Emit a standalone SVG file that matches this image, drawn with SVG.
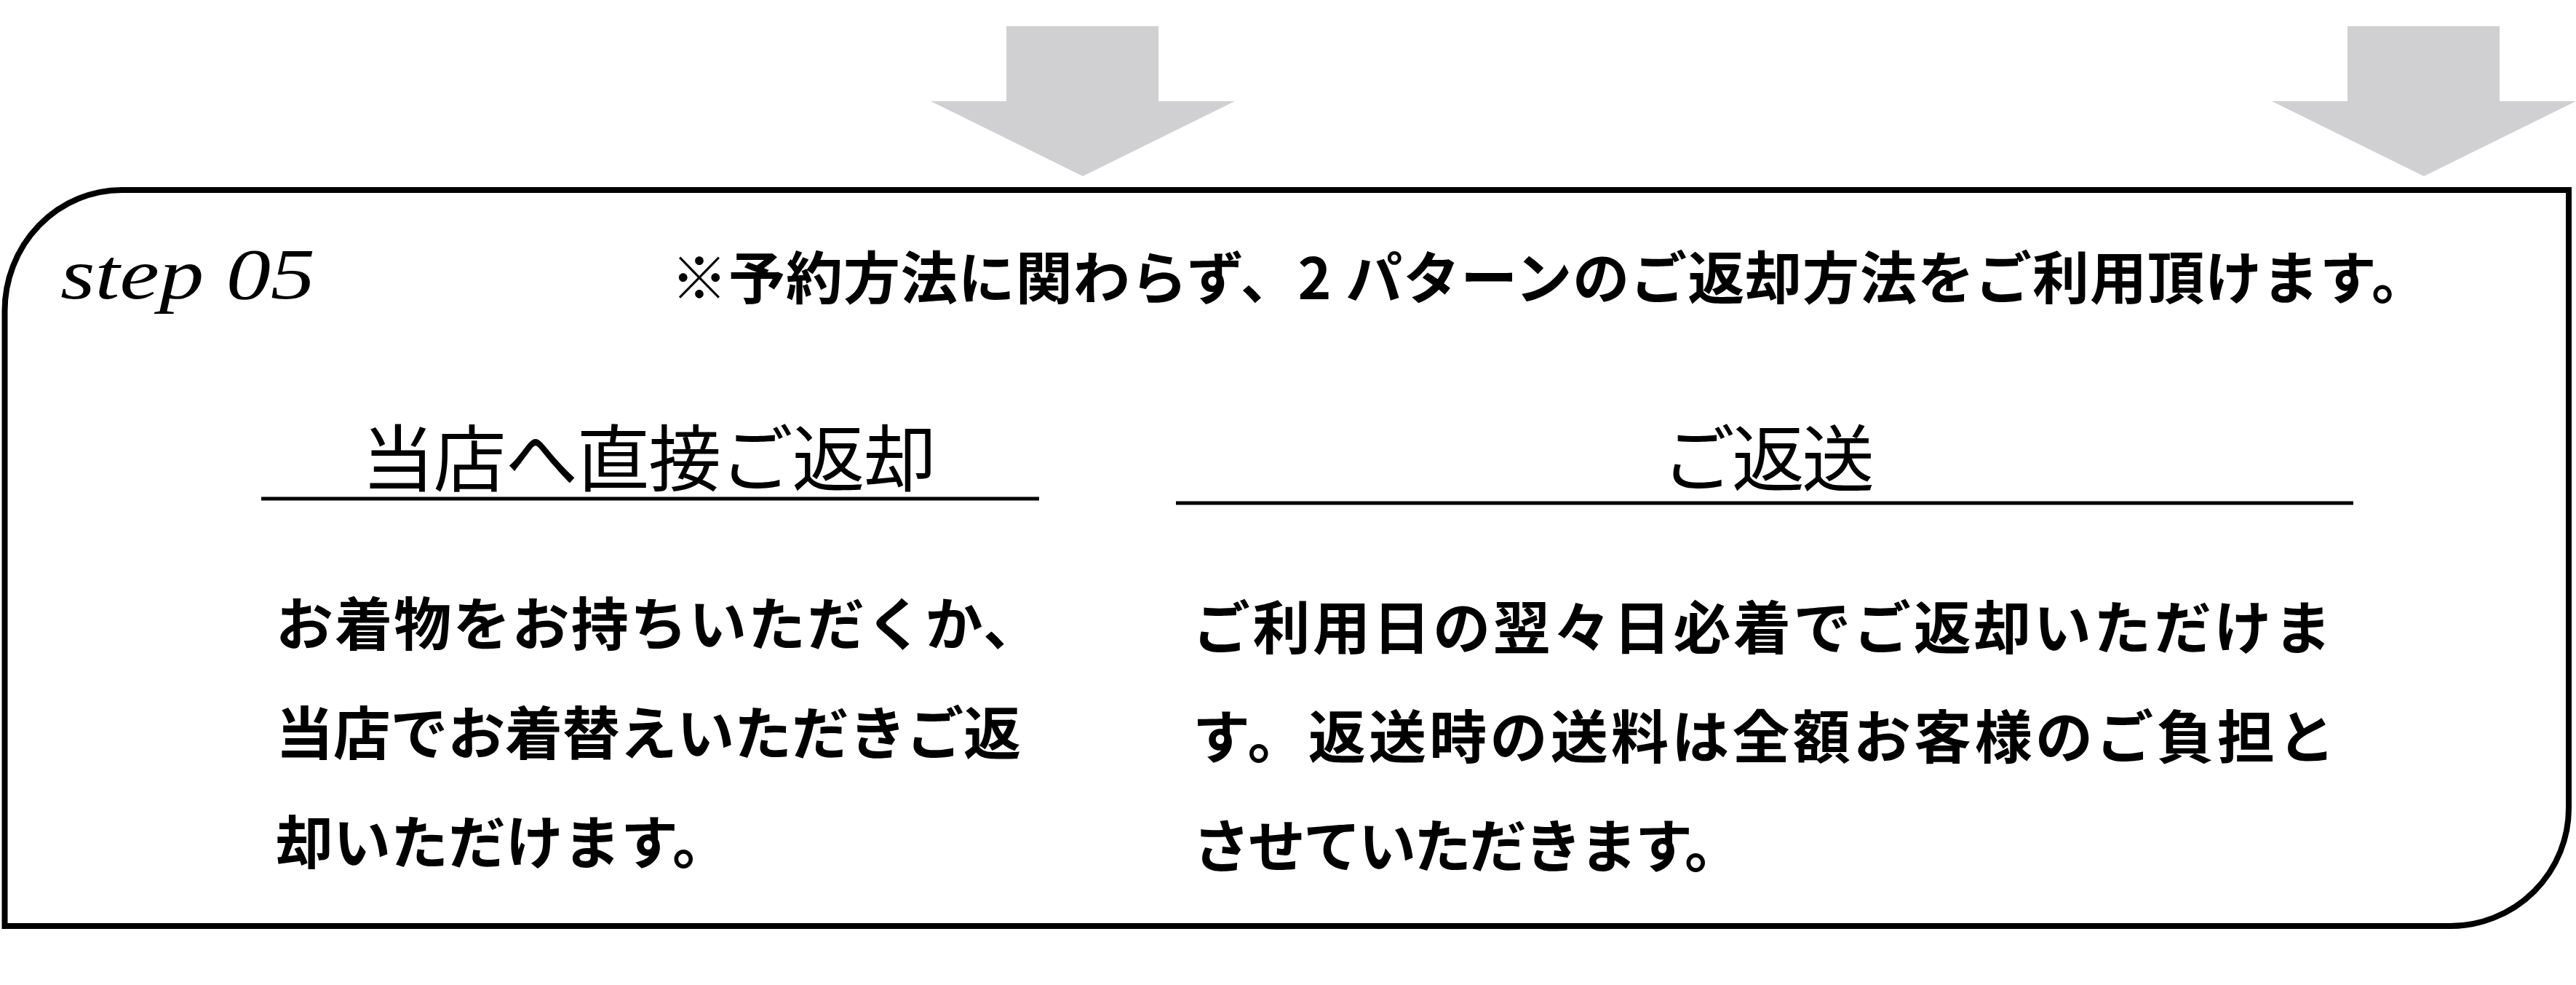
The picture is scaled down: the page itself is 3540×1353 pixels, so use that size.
<svg xmlns="http://www.w3.org/2000/svg" width="3540" height="1353" viewBox="0 0 3540 1353">
<style>
.bg{fill:#ffffff}
.arrow{fill:#d0cfd1;stroke:none}
.frame{fill:none;stroke:#000;stroke-width:8;stroke-linejoin:miter}
.rule{stroke:#000;stroke-width:5;fill:none}
.step{font-family:"Liberation Serif","Times New Roman",serif;font-style:italic;font-size:100px;fill:#000}
.head{font-family:"Noto Sans CJK JP","Noto Sans CJK SC",sans-serif;font-weight:700;font-size:78px;fill:#000}
.title{font-family:"Noto Sans CJK JP","Noto Sans CJK SC",sans-serif;font-weight:400;font-size:100px;fill:#000}
.body{font-family:"Noto Sans CJK JP","Noto Sans CJK SC",sans-serif;font-weight:700;font-size:79px;fill:#000}
</style>
<rect class="bg" x="0" y="0" width="3540" height="1353"/>
<g id="connectors">
  <polygon class="arrow" points="1383,36 1592,36 1592,139 1697,139 1488,242 1279,139 1383,139"/>
  <polygon class="arrow" points="3226,36 3435,36 3435,139 3540,139 3331,242 3122,139 3226,139"/>
</g>
<g id="step05-box">
  <path class="frame" d="M 6.5,427 A 161,166 0 0 1 167,261 L 3530,261 L 3530,1110 A 163,162 0 0 1 3367,1272 L 6.5,1272 Z"/>
  <text class="step" x="83" y="410" textLength="350" lengthAdjust="spacingAndGlyphs">step 05</text>
  <text class="head" x="922" y="411" textLength="2415" lengthAdjust="spacing">※予約方法に関わらず、2 パターンのご返却方法をご利用頂けます。</text>
</g>
<g id="direct-return">
  <text class="title" x="497" y="667" textLength="790" lengthAdjust="spacing">当店へ直接ご返却</text>
  <line class="rule" x1="359" y1="685" x2="1428" y2="685"/>
  <text class="body" x="379" y="887" textLength="1051" lengthAdjust="spacing">お着物をお持ちいただくか、</text>
  <text class="body" x="379" y="1037" textLength="1024" lengthAdjust="spacing">当店でお着替えいただきご返</text>
  <text class="body" x="379" y="1187">却いただけます。</text>
</g>
<g id="shipping-return">
  <text class="title" x="2284" y="667" textLength="292" lengthAdjust="spacing">ご返送</text>
  <line class="rule" x1="1616" y1="691" x2="3234" y2="691"/>
  <text class="body" x="1639" y="892" textLength="1565" lengthAdjust="spacing">ご利用日の翌々日必着でご返却いただけま</text>
  <text class="body" x="1639" y="1042" textLength="1570" lengthAdjust="spacing">す。返送時の送料は全額お客様のご負担と</text>
  <text class="body" x="1639" y="1192" textLength="755" lengthAdjust="spacing">させていただきます。</text>
</g>
</svg>
